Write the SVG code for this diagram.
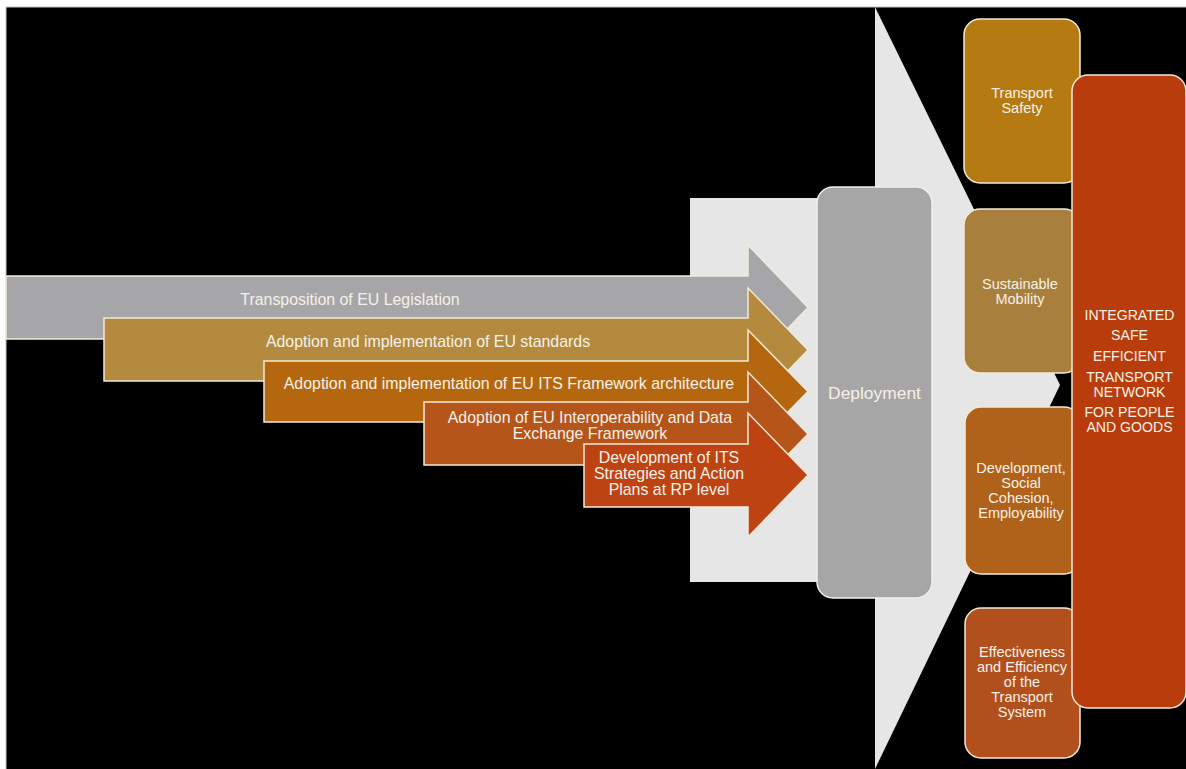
<svg xmlns="http://www.w3.org/2000/svg" width="1186" height="769" viewBox="0 0 1186 769">
<style>
text{font-family:"Liberation Sans",Arial,sans-serif;fill:#f6f1e8;text-anchor:middle;dominant-baseline:central}
.at{font-size:15.9px}
.bt{font-size:14.5px}
.rt{font-size:14.1px}
.edge{stroke:#f3ead8;stroke-width:1.5}
</style>
<rect x="0" y="0" width="1186" height="769" fill="#ffffff"/>
<rect x="6" y="7" width="1180" height="762" fill="#000000"/>
<path d="M6,769 V7 H1186" fill="none" stroke="#c4c4c4" stroke-width="1"/>
<g id="connectors">
<path id="flow" d="M690,198 H875 V7 L1060,385 L875,769 V582 H690 Z" fill="#e6e6e6"/>
</g>
<g id="arrow1">
<path d="M6,276 H748 V245 L808,307.5 L748,370 V339 H6 Z" fill="#a6a6a8" class="edge"/>
<text class="at" x="350" y="299">Transposition of EU Legislation</text>
</g>
<g id="arrow2">
<path d="M104,318 H748 V288 L808,350 L748,412 V381 H104 Z" fill="#b38a3e" class="edge"/>
<text class="at" x="428" y="341">Adoption and implementation  of EU standards</text>
</g>
<g id="arrow3">
<path d="M264,361 H748 V330 L808,391.5 L748,453 V422 H264 Z" fill="#b5670f" class="edge"/>
<text class="at" x="509" y="383">Adoption and implementation  of EU ITS Framework architecture</text>
</g>
<g id="arrow4">
<path d="M424,402 H748 V372 L808,434 L748,496 V465 H424 Z" fill="#b5551a" class="edge"/>
<text class="at" x="590" y="417">Adoption of EU Interoperability and Data</text>
<text class="at" x="590" y="433">Exchange Framework</text>
</g>
<g id="arrow5">
<path d="M584,444 H748 V413 L808,475 L748,537 V507 H584 Z" fill="#bd4312" class="edge"/>
<text class="at" x="669" y="457">Development of ITS</text>
<text class="at" x="669" y="473">Strategies and Action</text>
<text class="at" x="669" y="489">Plans at RP level</text>
</g>
<g id="deployment">
<rect x="817" y="187" width="115" height="411" rx="16" fill="#a6a6a6" stroke="#f0f0f0" stroke-width="1.5"/>
<text x="874.5" y="393" style="font-size:17.4px">Deployment</text>
</g>
<g id="transport-safety">
<rect x="964" y="19" width="116" height="164" rx="16" fill="#b57a12" class="edge"/>
<text class="bt" x="1022" y="93">Transport</text>
<text class="bt" x="1022" y="108">Safety</text>
</g>
<g id="sustainable-mobility">
<rect x="964" y="209" width="116" height="164" rx="16" fill="#a87f3c" class="edge"/>
<text class="bt" x="1020" y="284">Sustainable</text>
<text class="bt" x="1020" y="299">Mobility</text>
</g>
<g id="development">
<rect x="965" y="407" width="115" height="167" rx="16" fill="#b0621a" class="edge"/>
<text class="bt" x="1021" y="468">Development,</text>
<text class="bt" x="1021" y="483">Social</text>
<text class="bt" x="1021" y="498">Cohesion,</text>
<text class="bt" x="1021" y="513">Employability</text>
</g>
<g id="effectiveness">
<rect x="965" y="608" width="115" height="150" rx="16" fill="#b2501d" class="edge"/>
<text class="bt" x="1022" y="652">Effectiveness</text>
<text class="bt" x="1022" y="667">and Efficiency</text>
<text class="bt" x="1022" y="682">of the</text>
<text class="bt" x="1022" y="697">Transport</text>
<text class="bt" x="1022" y="712">System</text>
</g>
<g id="integrated-network">
<rect x="1072" y="75" width="114" height="633" rx="16" fill="#b93d0c" class="edge"/>
<text class="rt" x="1129.5" y="315">INTEGRATED</text>
<text class="rt" x="1129.5" y="335">SAFE</text>
<text class="rt" x="1129.5" y="356">EFFICIENT</text>
<text class="rt" x="1129.5" y="377">TRANSPORT</text>
<text class="rt" x="1129.5" y="392">NETWORK</text>
<text class="rt" x="1129.5" y="412">FOR PEOPLE</text>
<text class="rt" x="1129.5" y="427">AND GOODS</text>
</g>
</svg>
